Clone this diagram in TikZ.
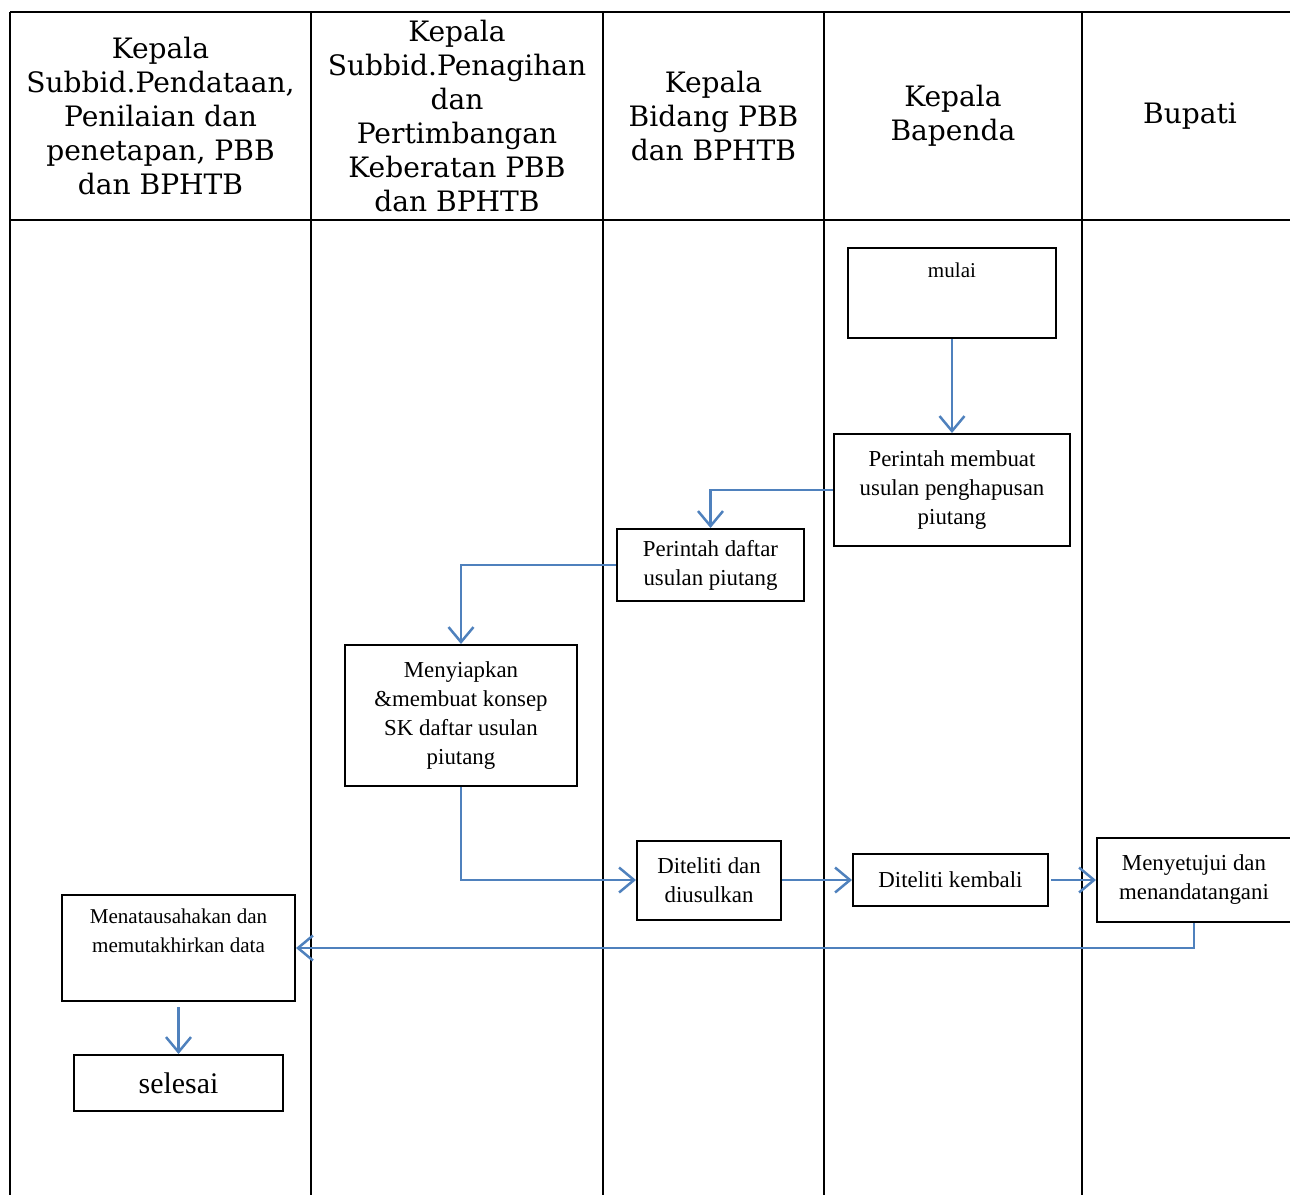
\documentclass[tikz,border=0pt]{standalone}
\usepackage{fontspec}
\setmainfont{Liberation Serif}
\newfontfamily\headfont{DejaVu Serif}
\usetikzlibrary{arrows.meta,positioning}
\definecolor{flowblue}{RGB}{79,129,189}
\tikzset{font={\fontsize{13pt}{16.5pt}\selectfont}}

\begin{document}
\begin{tikzpicture}[x=0.2mm,y=-0.2mm,
grid/.style={line width=0.45mm},
head/.style={font={\headfont\fontsize{16pt}{19.4pt}\selectfont},align=center},
box/.style={draw,line width=0.4mm,align=center,inner sep=0pt},
toptext/.style={anchor=north,inner sep=0pt,align=center,font={\fontsize{12pt}{16.5pt}\selectfont}},
flow/.style={draw=flowblue,line width=0.5mm,-{Straight Barb[length=3mm,width=5mm]}}
]
\useasboundingbox (0,0) rectangle (1290,1195);

%lanes
\draw[grid] (10,12) -- (1290,12);
\draw[grid] (10,220) -- (1290,220);
\foreach \x in {10,311,603,824,1082} \draw[grid] (\x,12) -- (\x,1195);

\node[head] (h1) at (160.5,116) {Kepala\\Subbid.Pendataan,\\Penilaian dan\\penetapan, PBB\\dan BPHTB};
\node[head] (h2) at (457,116) {Kepala\\Subbid.Penagihan\\dan\\Pertimbangan\\Keberatan PBB\\dan BPHTB};
\node[head] (h3) at (713.5,116) {Kepala\\Bidang PBB\\dan BPHTB};
\node[head] (h4) at (953,116) {Kepala\\Bapenda};
\node[head] (h5) at (1190,116) {Bupati};

%steps
\node[box,minimum width=41.6mm,minimum height=18mm,
  label={[toptext,yshift=-3.2mm]north:mulai}] (mulai) at (952,293) {};
\node[box,minimum width=47.2mm,minimum height=22.4mm] (perintah) at (952,490) {Perintah membuat\\usulan penghapusan\\piutang};
\node[box,minimum width=37.4mm,minimum height=14.4mm] (daftar) at (710.5,565) {\raisebox{-0.8mm}{\begin{tabular}{@{}c@{}}Perintah daftar\\usulan piutang\end{tabular}}};
\node[box,minimum width=46.4mm,minimum height=28.2mm] (siapkan) at (461,715.5) {Menyiapkan\\\&membuat konsep\\SK daftar usulan\\piutang};
\node[box,minimum width=28.8mm,minimum height=15.8mm] (teliti) at (709,880) {Diteliti dan\\diusulkan};
\node[box,minimum width=39mm,minimum height=10.4mm] (kembali) at (950.5,880) {Diteliti kembali};
\node[box,minimum width=38.8mm,minimum height=16.8mm] (setuju) at (1194,880) {Menyetujui dan\\menandatangani};
\node[box,minimum width=46.6mm,minimum height=21.2mm,
  label={[toptext,yshift=-3mm]north:Menatausahakan dan\\memutakhirkan data}] (tata) at (178.5,948) {};
\node[box,minimum width=41.6mm,minimum height=11.2mm,font={\fontsize{17pt}{20pt}\selectfont}] (selesai) at (178.5,1083) {selesai};

%arrows
\draw[flow] (mulai.south) -- (perintah.north);
\draw[flow] (perintah.west) -| (daftar.north);
\draw[flow] (daftar.west) -| (siapkan.north);
\draw[flow] (siapkan.south) |- (teliti.west);
\draw[flow] (teliti.east) -- (kembali.west);
\draw[flow,shorten <=0.4mm] (kembali.east) -- (setuju.west);
\draw[flow] (setuju.south) |- (tata.east);
\draw[flow,shorten <=1mm] (tata.south) -- (selesai.north);

\end{tikzpicture}
\end{document}
